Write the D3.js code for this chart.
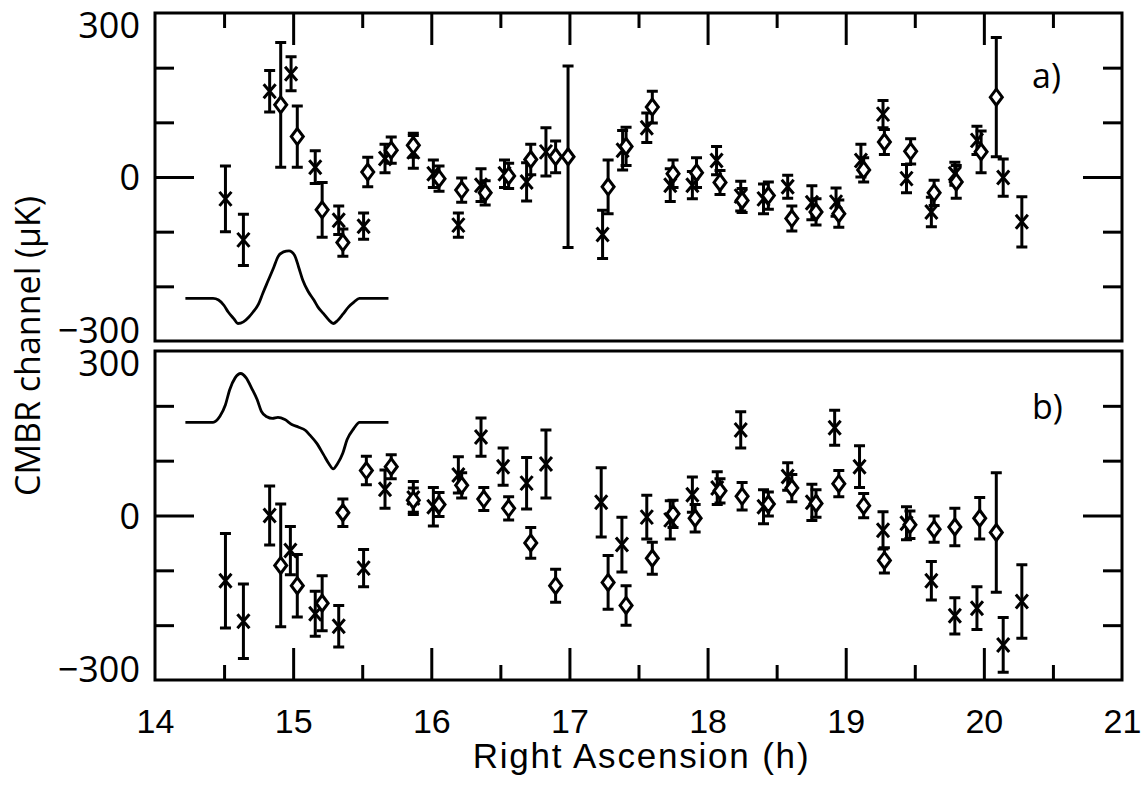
<!DOCTYPE html>
<html><head><meta charset="utf-8">
<script src="https://cdn.jsdelivr.net/npm/d3@7/dist/d3.min.js"></script>
<style>body{margin:0;background:#fff}svg{display:block}</style>
</head><body><svg id="c" width="1146" height="792"></svg>
<script>
// ---------- DATA (Right Ascension h, value µK, error µK) ----------
const crossA = [
 [14.51,-40,60],[14.64,-115,47],[14.83,157,38],[14.985,189,31],[15.16,18,30],[15.33,-79,26],
 [15.51,-90,24],[15.665,34,26],[15.87,46,30],[16.015,6,25],[16.196,-88,22],[16.36,-15,30],
 [16.53,6,25],[16.69,-9,35],[16.83,46,44],[17.24,-105,44],[17.385,49,36],[17.56,90,27],
 [17.73,-15,30],[17.89,-15,25],[18.065,30,26],[18.24,-35,27],[18.405,-40,27],[18.58,-18,21],
 [18.755,-47,31],[18.93,-46,26],[19.11,30,30],[19.27,115,25],[19.44,-3,26],[19.62,-64,27],
 [19.79,6,21],[19.95,67,26],[20.14,-1,34],[20.275,-82,46]
];
const diamondA = [
 [14.91,132,114],[15.03,74,56],[15.21,-60,50],[15.36,-120,25],[15.54,9,27],[15.71,49,24],
 [15.87,58,22],[16.056,-3,23],[16.22,-24,22],[16.39,-29,22],[16.56,2,23],[16.72,32,28],
 [16.90,37,29],[16.99,37,166],[17.28,-18,49],[17.41,56,35],[17.60,128,29],[17.75,6,25],
 [17.92,8,27],[18.09,-10,22],[18.25,-43,22],[18.44,-34,25],[18.61,-76,23],[18.785,-64,24],
 [18.95,-67,25],[19.13,13,22],[19.28,64,23],[19.47,47,23],[19.64,-29,23],[19.80,-9,30],
 [19.98,46,38],[20.09,146,109]
];
const crossB = [
 [14.51,-119,86],[14.64,-193,68],[14.83,0,54],[14.98,-64,44],[15.16,-179,41],[15.33,-202,38],
 [15.51,-96,34],[15.665,48,35],[15.87,32,30],[16.015,16,35],[16.196,74,33],[16.36,143,35],
 [16.52,89,34],[16.69,59,47],[16.83,94,62],[17.23,24,63],[17.38,-53,50],[17.56,-3,40],
 [17.73,-8,35],[17.89,38,32],[18.07,50,30],[18.24,156,33],[18.405,16,31],[18.58,71,25],
 [18.755,24,33],[18.92,160,32],[19.10,89,38],[19.27,-27,34],[19.44,-14,30],[19.62,-119,35],
 [19.79,-183,33],[19.95,-169,39],[20.14,-236,50],[20.275,-157,67]
];
const diamondB = [
 [14.91,-91,112],[15.03,-128,57],[15.21,-160,50],[15.36,5,25],[15.53,82,26],[15.71,89,22],
 [15.87,28,22],[16.056,20,22],[16.22,55,23],[16.38,30,21],[16.56,13,21],[16.72,-50,28],
 [16.90,-128,30],[17.28,-122,49],[17.41,-164,36],[17.60,-78,29],[17.75,3,25],[17.91,-5,25],
 [18.09,45,22],[18.25,35,25],[18.44,21,22],[18.61,50,25],[18.785,22,25],[18.95,58,24],
 [19.13,18,22],[19.28,-82,23],[19.465,-17,25],[19.64,-25,24],[19.79,-21,34],[19.97,-5,38],
 [20.09,-31,109]
];
// beam profile curves (RA h, value µK)
const beamA = [
 [14.22,-222],[14.42,-222],[14.46,-225],[14.50,-235],[14.53,-247],[14.57,-259],[14.60,-268],
 [14.64,-265],[14.68,-256],[14.71,-247],[14.75,-232],[14.78,-213],[14.82,-189],[14.86,-165],
 [14.89,-146],[14.93,-137],[14.97,-135],[15.01,-143],[15.04,-165],[15.07,-189],[15.11,-210],
 [15.15,-225],[15.18,-238],[15.22,-250],[15.26,-262],[15.29,-268],[15.32,-263],[15.36,-251],
 [15.40,-238],[15.44,-229],[15.48,-222],[15.69,-222]
];
const beamB = [
 [14.22,170],[14.42,170],[14.47,181],[14.51,202],[14.54,229],[14.58,251],[14.62,259],
 [14.66,251],[14.70,232],[14.74,211],[14.77,190],[14.81,180],[14.85,177],[14.89,179],
 [14.94,175],[14.99,166],[15.04,161],[15.09,155],[15.12,147],[15.17,132],[15.22,111],
 [15.26,94],[15.29,85],[15.32,94],[15.36,114],[15.39,138],[15.44,159],[15.48,170],[15.69,170]
];
const xTickLabels = [14,15,16,17,18,19,20,21];
const xMajorTicks = [15,16,17,18,19,20];
const xMinorTicks = [14.5,15.5,16.5,17.5,18.5,19.5,20.5];
const yLabelValues = [-300,0,300];
const yMinorTicks = [-200,-100,100,200];
const yMajorTicks = [0];
const panelLabels = ["a)","b)"];
const xTitle = "Right Ascension (h)";
const yTitle = "CMBR channel (\u03bcK)";

// ---------- DRAW ----------
const svg = d3.select('#c');
const L = 155, R = 1122;
const x = d3.scaleLinear().domain([14,21]).range([L,R]);
const SW = 3;
const yFont = "'Open Sans', 'DejaVu Sans', sans-serif";
const xFont = "'Liberation Sans', Arial, sans-serif";

const panels = [
  {top:13, bottom:341, cross:crossA, diamond:diamondA, beam:beamA, label:panelLabels[0], xTicksTop:true},
  {top:351, bottom:680, cross:crossB, diamond:diamondB, beam:beamB, label:panelLabels[1], xTicksTop:false}
];

panels.forEach(p => {
  const y = d3.scaleLinear().domain([-300,300]).range([p.bottom, p.top]);
  const g = svg.append('g');

  // x ticks (inward)
  const axisX = p.xTicksTop ? d3.axisBottom : d3.axisTop;
  const xPos = p.xTicksTop ? p.top : p.bottom;
  [[xMajorTicks,32],[xMinorTicks,15]].forEach(([tv,sz]) => {
    const a = g.append('g').attr('transform',`translate(0,${xPos})`)
      .call(axisX(x).tickValues(tv).tickSize(sz).tickFormat(''));
    a.select('.domain').remove();
    a.selectAll('line').attr('stroke','#000').attr('stroke-width',SW);
  });
  // y ticks (inward both sides)
  [[yMajorTicks,39],[yMinorTicks,19]].forEach(([tv,sz]) => {
    const a1 = g.append('g').attr('transform',`translate(${L},0)`)
      .call(d3.axisRight(y).tickValues(tv).tickSize(sz).tickFormat(''));
    const a2 = g.append('g').attr('transform',`translate(${R},0)`)
      .call(d3.axisLeft(y).tickValues(tv).tickSize(sz).tickFormat(''));
    [a1,a2].forEach(a => { a.select('.domain').remove(); a.selectAll('line').attr('stroke','#000').attr('stroke-width',SW); });
  });
  // y labels
  const yl = g.append('g').attr('transform',`translate(${L-15},0)`)
    .call(d3.axisLeft(y).tickValues(yLabelValues).tickSize(0).tickPadding(0));
  yl.select('.domain').remove();
  yl.selectAll('text')
    .attr('font-family', yFont).attr('font-size', 36).attr('fill','#000')
    .attr('x',0)
    .attr('dy', d => d===300 ? '0.70em' : d===-300 ? '0em' : '0.36em')
    .attr('transform', d => d===300 ? 'translate(0,-1)' : d===-300 ? 'translate(0,1)' : null);

  // frame
  g.append('rect').attr('x',L).attr('y',p.top).attr('width',R-L).attr('height',p.bottom-p.top)
    .attr('fill','none').attr('stroke','#000').attr('stroke-width',3);

  // beam curve
  g.append('path').datum(p.beam)
    .attr('d', d3.line().x(d=>x(d[0])).y(d=>y(d[1])).curve(d3.curveMonotoneX))
    .attr('fill','none').attr('stroke','#000').attr('stroke-width',2.8);

  // error bars
  const all = p.cross.concat(p.diamond);
  const eb = g.append('g').attr('stroke','#000').attr('stroke-width',SW).attr('fill','none');
  all.forEach(d => {
    const cx = x(d[0]), y1 = y(d[1]+d[2]), y2 = y(d[1]-d[2]);
    eb.append('path').attr('d', `M${cx},${y1}V${y2}M${cx-5.5},${y1}H${cx+5.5}M${cx-5.5},${y2}H${cx+5.5}`);
  });
  // markers
  g.append('g').selectAll('path').data(p.cross).join('path')
    .attr('d', d => { const cx=x(d[0]), cy=y(d[1]); return `M${cx-6},${cy-7}L${cx+6},${cy+7}M${cx-6},${cy+7}L${cx+6},${cy-7}`; })
    .attr('stroke','#000').attr('stroke-width',SW).attr('fill','none');
  g.append('g').selectAll('path').data(p.diamond).join('path')
    .attr('d', d => { const cx=x(d[0]), cy=y(d[1]); return `M${cx},${cy-8}L${cx+6},${cy}L${cx},${cy+8}L${cx-6},${cy}Z`; })
    .attr('stroke','#000').attr('stroke-width',SW).attr('fill','#fff');

  // panel label
  g.append('text').attr('x',1032).attr('y', p.top + (p.xTicksTop ? 75 : 68))
    .attr('font-family', yFont).attr('font-size', 34).attr('fill','#000').text(p.label);
});

// x tick labels
const xl = svg.append('g').attr('transform','translate(0,680)')
  .call(d3.axisBottom(x).tickValues(xTickLabels).tickSize(0).tickPadding(29).tickFormat(d3.format('d')));
xl.select('.domain').remove();
xl.selectAll('text').attr('font-family', xFont).attr('font-size', 34).attr('fill','#000');

// axis titles
svg.append('text').attr('x', (L+R)/2 + 3).attr('y', 768)
  .attr('text-anchor','middle').attr('font-family', xFont).attr('font-size', 35)
  .attr('letter-spacing', 1.8).text(xTitle);
svg.append('text').attr('transform','translate(40,346) rotate(-90)')
  .attr('text-anchor','middle').attr('font-family', yFont).attr('font-size', 34)
  .text(yTitle);
</script></body></html>
